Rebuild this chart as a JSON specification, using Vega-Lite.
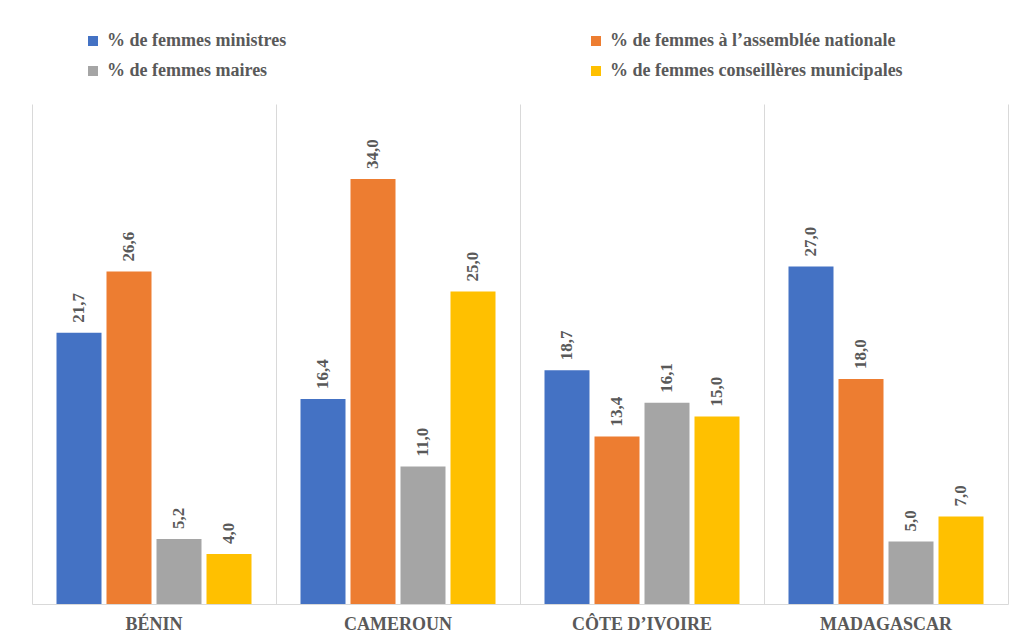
{
  "$schema": "https://vega.github.io/schema/vega-lite/v6.json",
  "autosize": "none",
  "width": 976,
  "height": 500,
  "padding": {"left": 32, "top": 104, "right": 8, "bottom": 32},
  "background": "white",
  "data": {
    "values": [
      {"pays": "BÉNIN", "serie": "% de femmes ministres", "valeur": 21.7},
      {"pays": "BÉNIN", "serie": "% de femmes à l’assemblée nationale", "valeur": 26.6},
      {"pays": "BÉNIN", "serie": "% de femmes maires", "valeur": 5.2},
      {"pays": "BÉNIN", "serie": "% de femmes conseillères municipales", "valeur": 4.0},
      {"pays": "CAMEROUN", "serie": "% de femmes ministres", "valeur": 16.4},
      {"pays": "CAMEROUN", "serie": "% de femmes à l’assemblée nationale", "valeur": 34.0},
      {"pays": "CAMEROUN", "serie": "% de femmes maires", "valeur": 11.0},
      {"pays": "CAMEROUN", "serie": "% de femmes conseillères municipales", "valeur": 25.0},
      {"pays": "CÔTE D’IVOIRE", "serie": "% de femmes ministres", "valeur": 18.7},
      {"pays": "CÔTE D’IVOIRE", "serie": "% de femmes à l’assemblée nationale", "valeur": 13.4},
      {"pays": "CÔTE D’IVOIRE", "serie": "% de femmes maires", "valeur": 16.1},
      {"pays": "CÔTE D’IVOIRE", "serie": "% de femmes conseillères municipales", "valeur": 15.0},
      {"pays": "MADAGASCAR", "serie": "% de femmes ministres", "valeur": 27.0},
      {"pays": "MADAGASCAR", "serie": "% de femmes à l’assemblée nationale", "valeur": 18.0},
      {"pays": "MADAGASCAR", "serie": "% de femmes maires", "valeur": 5.0},
      {"pays": "MADAGASCAR", "serie": "% de femmes conseillères municipales", "valeur": 7.0}
    ]
  },
  "encoding": {
    "x": {
      "field": "pays", "type": "nominal",
      "sort": ["BÉNIN", "CAMEROUN", "CÔTE D’IVOIRE", "MADAGASCAR"],
      "scale": {"paddingInner": 0, "paddingOuter": 0},
      "axis": {
        "title": null, "labelAngle": 0, "ticks": false,
        "domain": true, "domainColor": "#d9d9d9", "domainWidth": 1,
        "grid": true, "gridColor": "#d9d9d9", "bandPosition": 0,
        "labelFont": "Liberation Serif", "labelFontWeight": "bold", "labelFontSize": 18,
        "labelColor": "#595959", "labelPadding": 11
      }
    },
    "xOffset": {
      "field": "serie", "type": "nominal",
      "sort": ["% de femmes ministres", "% de femmes à l’assemblée nationale", "% de femmes maires", "% de femmes conseillères municipales"],
      "scale": {"paddingInner": 0.1, "paddingOuter": 0.49}
    },
    "y": {
      "field": "valeur", "type": "quantitative",
      "scale": {"domain": [0, 40], "nice": false},
      "axis": {"orient": "right", "title": null, "labels": false, "ticks": false, "grid": false, "domain": true, "domainColor": "#d9d9d9"}
    }
  },
  "layer": [
    {
      "mark": {"type": "bar"},
      "encoding": {
        "color": {
          "field": "serie", "type": "nominal",
          "sort": ["% de femmes ministres", "% de femmes maires", "% de femmes à l’assemblée nationale", "% de femmes conseillères municipales"],
          "scale": {"range": ["#4472C4", "#A5A5A5", "#ED7D31", "#FFC000"]},
          "legend": {
            "title": null, "orient": "none", "legendX": 52, "legendY": -72,
            "columns": 2, "columnPadding": 300, "rowPadding": 12,
            "symbolType": "square", "symbolSize": 100, "symbolStrokeWidth": 0,
            "labelFont": "Liberation Serif", "labelFontWeight": "bold", "labelFontSize": 18,
            "labelColor": "#595959", "labelLimit": 500, "labelOffset": 5
          }
        }
      }
    },
    {
      "mark": {"type": "text", "angle": 270, "align": "left", "baseline": "middle", "dx": 10,
        "font": "Liberation Serif", "fontWeight": "bold", "fontSize": 17, "color": "#595959"},
      "encoding": {
        "text": {"field": "valeur", "type": "quantitative", "format": ".1f"}
      }
    }
  ],
  "config": {
    "view": {"stroke": null},
    "locale": {"number": {"decimal": ",", "thousands": " ", "grouping": [3], "currency": ["", " €"]}}
  }
}
